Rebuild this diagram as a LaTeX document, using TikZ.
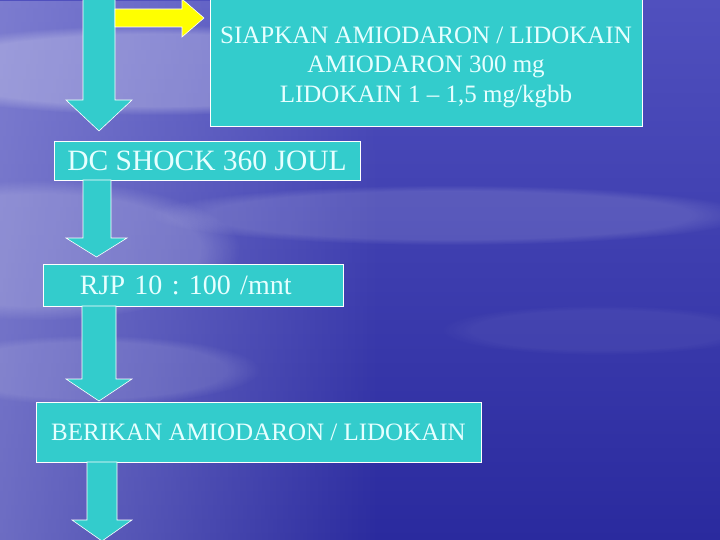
\documentclass[tikz,border=0pt]{standalone}
\usepackage{fontspec}
\setmainfont{Liberation Serif}
\usetikzlibrary{calc,fadings}
\definecolor{turq}{HTML}{33CCCC}
\definecolor{txt}{HTML}{E6FFFF}
\definecolor{bgA}{HTML}{9A9ADC}
\definecolor{bgB}{HTML}{5050BE}
\definecolor{bgC}{HTML}{2A2A9E}
\definecolor{yel}{HTML}{FFFF00}
\tikzset{
  box/.style={draw=white, line width=0.6pt, fill=turq, text=txt, inner sep=0pt, align=center},
  blockarrow/.style={draw=white, line width=0.6pt, fill=turq},
  yelarrow/.style={draw=white, line width=0.6pt, fill=yel},
  cloud/.style={fill=white, path fading=circle with fuzzy edge 20 percent},
}
\newcommand{\dnarrow}[7]{% shaft x1 x2, ytop, ybase, head x1 x2, ytip
  \draw[blockarrow] (#1,#3) -- (#1,#4) -- (#5,#4) -- ({(#5+#6)/2},#7) -- (#6,#4) -- (#2,#4) -- (#2,#3) -- cycle;}
\frenchspacing
\begin{document}
\begin{tikzpicture}[x=1pt,y=-1pt]
\useasboundingbox (0,0) rectangle (720,540);
% background
\shade[top color=bgB, bottom color=bgC] (0,0) rectangle (720,540);
\fill[bgA, opacity=0.6, path fading=east] (0,0) rectangle (380,540);
\fill[cloud, opacity=0.25] (160,70) ellipse (280 and 45);
\fill[cloud, opacity=0.18] (40,250) ellipse (200 and 70);
\fill[cloud, opacity=0.13] (450,215) ellipse (300 and 30);
\fill[cloud, opacity=0.12] (90,370) ellipse (170 and 35);
\fill[cloud, opacity=0.05] (600,330) ellipse (160 and 25);

% boxes
\node[box, minimum width=432pt, minimum height=127pt, font=\fontsize{25}{29.5}\selectfont] (siap) at (426,63)
  {\rule{0pt}{25pt}SIAPKAN AMIODARON / LIDOKAIN\\AMIODARON 300 mg\\LIDOKAIN 1 -- 1,5 mg/kgbb};
\node[box, minimum width=306pt, minimum height=39pt, font=\fontsize{29.5}{32}\selectfont] (dc) at (207,160.5) {DC SHOCK 360 JOUL};
\node[box, minimum width=300pt, minimum height=42pt, font=\fontsize{28}{32}\selectfont, text width=290pt, align=left] (rjp) at (193,285) {\hspace*{32pt}RJP 10 : 100 /mnt};
\node[box, minimum width=445pt, minimum height=60pt, font=\fontsize{25}{28}\selectfont] (ber) at (258.5,432) {BERIKAN AMIODARON / LIDOKAIN};

% arrows
\dnarrow{83}{115}{-2}{100}{66}{132}{131}
\draw[yelarrow] (115,9) -- (182,9) -- (182,-1) -- (204,18) -- (182,37) -- (182,27) -- (115,27) -- cycle;
\dnarrow{83}{111}{180}{238}{66}{127}{257}
\dnarrow{82}{116}{306}{379}{66}{132}{401}
\dnarrow{87}{117}{462}{520}{72}{132}{541}
\end{tikzpicture}
\end{document}
